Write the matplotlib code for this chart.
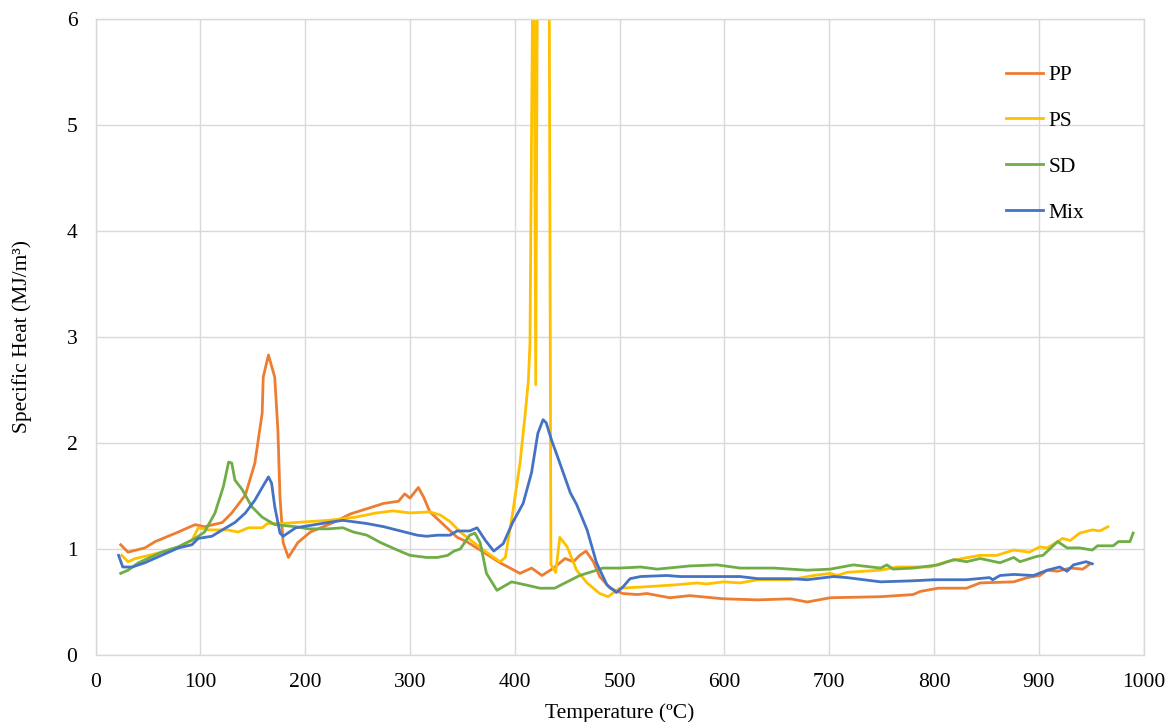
import matplotlib
matplotlib.use("Agg")
import matplotlib.pyplot as plt

plt.rcParams["font.family"] = ["Liberation Serif", "DejaVu Serif"]

# --------------------------------------------------
# DATA
# --------------------------------------------------
pp_t = [24, 31, 47, 57, 79, 95, 104, 121, 130, 143, 152, 159, 160, 165, 171, 174,
        176, 179, 184, 193, 205, 227, 243, 259, 275, 289, 295, 300, 308, 313, 319,
        332, 345, 354, 367, 386, 405, 416, 426, 437, 448, 456, 462, 468, 475, 481,
        491, 503, 517, 526, 548, 567, 599, 632, 663, 679, 701, 749, 780, 787, 804,
        831, 844, 876, 889, 901, 908, 918, 930, 942, 949]
pp_cp = [1.04, 0.97, 1.01, 1.07, 1.16, 1.23, 1.21, 1.25, 1.34, 1.51, 1.81, 2.28, 2.62,
         2.83, 2.62, 2.12, 1.49, 1.06, 0.92, 1.06, 1.16, 1.25, 1.33, 1.38, 1.43, 1.45,
         1.52, 1.48, 1.58, 1.49, 1.35, 1.23, 1.11, 1.07, 0.99, 0.87, 0.77, 0.82, 0.75,
         0.82, 0.91, 0.88, 0.94, 0.98, 0.88, 0.74, 0.63, 0.58, 0.57, 0.58, 0.54, 0.56,
         0.53, 0.52, 0.53, 0.50, 0.54, 0.55, 0.57, 0.60, 0.63, 0.63, 0.68, 0.69, 0.73,
         0.75, 0.80, 0.79, 0.82, 0.81, 0.86]

ps_t = [25, 31, 38, 47, 63, 79, 92, 98, 107, 126, 136, 146, 159, 164, 178, 191, 222,
        248, 268, 284, 300, 319, 329, 338, 348, 361, 373, 386, 391, 398, 405, 410,
        413, 414.5, 418, 420, 422, 428, 432.5, 434.5, 439, 443, 450, 459, 469, 481,
        489, 500, 519, 551, 574, 583, 599, 615, 632, 663, 685, 701, 708, 717, 749,
        765, 796, 812, 827, 844, 860, 876, 891, 901, 908, 923, 930, 939, 951, 958, 966]
ps_cp = [0.94, 0.88, 0.91, 0.93, 0.97, 1.02, 1.08, 1.20, 1.18, 1.18, 1.16, 1.20, 1.20,
         1.24, 1.24, 1.25, 1.27, 1.30, 1.34, 1.36, 1.34, 1.35, 1.32, 1.26, 1.16, 1.06,
         0.97, 0.88, 0.92, 1.34, 1.81, 2.28, 2.59, 2.94, 7.5, 2.55, 7.5, 8.0, 7.5,
         0.85, 0.78, 1.11, 1.02, 0.80, 0.68, 0.58, 0.55, 0.63, 0.64, 0.66, 0.68, 0.67,
         0.69, 0.68, 0.71, 0.71, 0.75, 0.77, 0.75, 0.78, 0.80, 0.83, 0.83, 0.88, 0.91,
         0.94, 0.94, 0.99, 0.97, 1.02, 1.01, 1.10, 1.08, 1.15, 1.18, 1.17, 1.21]

sd_t = [24, 31, 41, 63, 79, 95, 104, 114, 122, 127, 130, 133, 140, 149, 159, 171, 191,
        203, 222, 236, 246, 259, 272, 288, 300, 316, 326, 336, 342, 348, 357, 362,
        367, 373, 383, 397, 411, 424, 438, 450, 462, 475, 484, 500, 520, 536, 567,
        593, 615, 647, 679, 701, 723, 749, 755, 761, 780, 804, 819, 831, 844, 863,
        876, 882, 898, 904, 918, 927, 939, 951, 956, 971, 976, 987, 990]
sd_cp = [0.77, 0.80, 0.87, 0.97, 1.02, 1.10, 1.16, 1.34, 1.59, 1.82, 1.81, 1.65, 1.56,
         1.40, 1.30, 1.23, 1.21, 1.19, 1.19, 1.20, 1.16, 1.13, 1.06, 0.99, 0.94, 0.92,
         0.92, 0.94, 0.98, 1.00, 1.13, 1.15, 1.06, 0.77, 0.61, 0.69, 0.66, 0.63, 0.63,
         0.69, 0.75, 0.79, 0.82, 0.82, 0.83, 0.81, 0.84, 0.85, 0.82, 0.82, 0.80, 0.81,
         0.85, 0.82, 0.85, 0.81, 0.82, 0.85, 0.90, 0.88, 0.91, 0.87, 0.92, 0.88, 0.93,
         0.94, 1.07, 1.01, 1.01, 0.99, 1.03, 1.03, 1.07, 1.07, 1.15]

mix_t = [22, 26, 35, 47, 63, 79, 92, 98, 111, 121, 133, 143, 152, 159, 165, 168, 171,
         176, 179, 191, 222, 236, 259, 275, 291, 307, 316, 326, 338, 345, 357, 364,
         372, 380, 389, 398, 408, 416, 422, 427, 430, 435, 443, 453, 459, 469, 478,
         488, 497, 503, 510, 520, 545, 558, 583, 615, 632, 663, 679, 704, 717, 749,
         780, 800, 831, 853, 856, 863, 876, 895, 908, 920, 927, 933, 945, 951]
mix_cp = [0.94, 0.83, 0.83, 0.87, 0.94, 1.01, 1.04, 1.10, 1.12, 1.18, 1.25, 1.34, 1.46,
          1.58, 1.68, 1.62, 1.40, 1.15, 1.12, 1.20, 1.25, 1.27, 1.24, 1.21, 1.17, 1.13,
          1.12, 1.13, 1.13, 1.17, 1.17, 1.20, 1.08, 0.98, 1.05, 1.25, 1.43, 1.72, 2.09,
          2.22, 2.19, 2.03, 1.81, 1.53, 1.42, 1.18, 0.87, 0.66, 0.59, 0.64, 0.72, 0.74,
          0.75, 0.74, 0.74, 0.74, 0.72, 0.72, 0.71, 0.74, 0.73, 0.69, 0.70, 0.71, 0.71,
          0.73, 0.71, 0.75, 0.76, 0.75, 0.80, 0.83, 0.79, 0.85, 0.88, 0.86]

series = [
    ("PP", pp_t, pp_cp, "#ED7D31"),
    ("PS", ps_t, ps_cp, "#FFC000"),
    ("SD", sd_t, sd_cp, "#70AD47"),
    ("Mix", mix_t, mix_cp, "#4472C4"),
]

FS = 15.5

# --------------------------------------------------
# PLOT
# --------------------------------------------------
fig = plt.figure(figsize=(11.75, 7.22), dpi=100)
ax = fig.add_axes([0.0813, 0.0928, 0.892, 0.881])

for label, t, cp, color in series:
    ax.plot(t, cp, color=color, lw=2.0, label=label, solid_joinstyle="round")

ax.set_xlim(0, 1000)
ax.set_ylim(0, 6)
ax.set_xticks(range(0, 1001, 100))
ax.set_yticks(range(0, 7))
ax.grid(True, color="#d9d9d9", lw=1.0)
ax.set_axisbelow(True)
ax.tick_params(length=0, labelsize=FS)
ax.tick_params(axis="x", pad=13)
ax.tick_params(axis="y", pad=13)
for s in ax.spines.values():
    s.set_color("#d9d9d9")
    s.set_linewidth(1.0)

ax.set_xlabel("Temperature (ºC)", fontsize=FS, labelpad=8)
ax.set_ylabel("Specific Heat (MJ/m³)", fontsize=FS, labelpad=25)

ax.legend(loc="upper left", bbox_to_anchor=(0.850, 0.958), frameon=False,
          fontsize=FS, handlelength=1.75, handletextpad=0.23, labelspacing=1.2)

fig.savefig("out.png", dpi=100)
